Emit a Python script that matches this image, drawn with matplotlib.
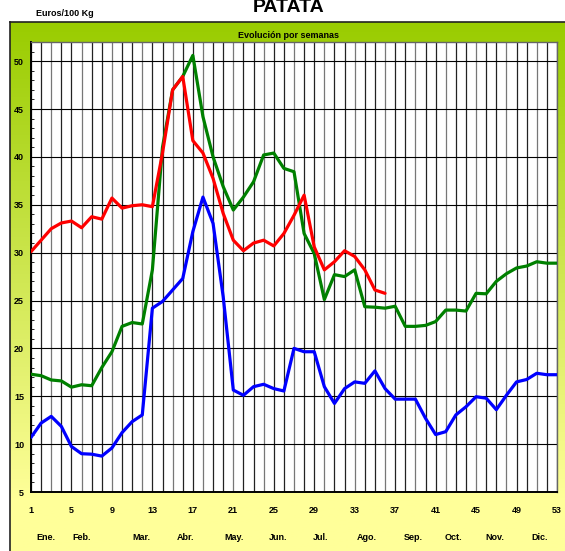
import matplotlib
matplotlib.use("Agg")
import matplotlib.pyplot as plt
import numpy as np
from matplotlib.colors import LinearSegmentedColormap

plt.rcParams["font.family"] = ["Liberation Sans", "DejaVu Sans"]

weeks = list(range(1, 54))

# precio rojo (semanas 1-36)
red_vals = [30.1, 31.3, 32.5, 33.1, 33.3, 32.6, 33.75, 33.5, 35.7, 34.65,
            34.9, 35.0, 34.8, 40.4, 47.0, 48.4, 41.7, 40.4, 37.75, 34.1,
            31.3, 30.2, 31.0, 31.3, 30.7, 32.0, 33.9, 36.0, 30.6, 28.2,
            29.05, 30.2, 29.6, 28.2, 26.1, 25.75]

green_vals = [17.3, 17.15, 16.7, 16.6, 15.95, 16.2, 16.1, 18.0, 19.65, 22.3,
              22.7, 22.55, 28.2, 41.0, 47.0, 48.4, 50.6, 44.2, 40.0, 36.9,
              34.45, 35.8, 37.4, 40.2, 40.4, 38.8, 38.45, 32.0, 29.9, 25.1,
              27.7, 27.5, 28.2, 24.35, 24.3, 24.2, 24.4, 22.3, 22.3, 22.4,
              22.8, 24.0, 24.0, 23.9, 25.75, 25.7, 27.0, 27.8, 28.4, 28.6,
              29.05, 28.9, 28.9]

blue_vals = [10.7, 12.2, 12.9, 11.85, 9.75, 9.0, 8.95, 8.75, 9.6, 11.2,
             12.35, 13.05, 24.2, 24.9, 26.1, 27.3, 32.2, 35.8, 33.05, 25.4,
             15.65, 15.1, 16.0, 16.25, 15.8, 15.55, 20.0, 19.65, 19.65, 16.0,
             14.25, 15.8, 16.5, 16.35, 17.65, 15.8, 14.7, 14.7, 14.7, 12.7,
             11.0, 11.3, 13.05, 13.9, 14.95, 14.8, 13.6, 15.1, 16.5, 16.75,
             17.4, 17.25, 17.25]

x_ticks = list(range(1, 54, 4))
y_ticks = [5, 10, 15, 20, 25, 30, 35, 40, 45, 50]
months = ["Ene.", "Feb.", "Mar.", "Abr.", "May.", "Jun.", "Jul.", "Ago.",
          "Sep.", "Oct.", "Nov.", "Dic."]
month_pos = [2.5, 6.0, 11.9, 16.3, 21.1, 25.4, 29.6, 34.2, 38.8, 42.8, 46.9, 51.3]

W, H = 565, 551
fig = plt.figure(figsize=(W / 100, H / 100), dpi=100)
fig.patch.set_facecolor("white")

# outer gradient panel
bg = fig.add_axes([10 / W, 0, 1 - 10 / W, 1 - 22 / H])
cmap = LinearSegmentedColormap.from_list("g", [(0, "#ffff99"), (0.1, "#ffff99"), (1, "#99cc00")])
grad = np.linspace(0, 1, 256).reshape(-1, 1)
bg.imshow(grad, aspect="auto", cmap=cmap, origin="lower", extent=[0, 1, 0, 1])
bg.set_xticks([])
bg.set_yticks([])
for s in ("right", "bottom"):
    bg.spines[s].set_visible(False)
for s in ("left", "top"):
    bg.spines[s].set_linewidth(1.2)
    bg.spines[s].set_color("#222222")

# white plot area
ax = fig.add_axes([31 / W, 1 - 492 / H, (557 - 31) / W, (492 - 42) / H])
ax.set_facecolor("white")
ax.set_xlim(1, 53)
ax.set_ylim(5, 52)

for w in weeks:
    ax.axvline(w, color="#222222" if w % 3 else "#777777", lw=0.9, zorder=1)
for v in y_ticks:
    ax.axhline(v, color="black", lw=0.8, zorder=1)

ax.plot(weeks[:len(red_vals)], red_vals, color="#ff0000", lw=2.3, zorder=4,
        solid_joinstyle="round", solid_capstyle="round")
ax.plot(weeks, green_vals, color="#008000", lw=2.3, zorder=3,
        solid_joinstyle="round", solid_capstyle="round")
ax.plot(weeks, blue_vals, color="#0000ff", lw=2.3, zorder=3,
        solid_joinstyle="round", solid_capstyle="round")

ax.set_xticks(x_ticks)
ax.set_yticks(y_ticks)
ax.set_yticks(range(5, 53), minor=True)
ax.tick_params(axis="x", length=0, pad=10, labelsize=6.5)
ax.tick_params(axis="y", which="major", length=0, pad=5, labelsize=6.5)
ax.tick_params(axis="y", which="minor", direction="in", length=2.5, width=0.6)
for lab in ax.get_xticklabels() + ax.get_yticklabels():
    lab.set_fontweight("bold")

for s in ("left", "bottom"):
    ax.spines[s].set_color("black")
    ax.spines[s].set_linewidth(1.4)
for s in ("top", "right"):
    ax.spines[s].set_color("#666666")
    ax.spines[s].set_linewidth(1.0)

for m, p in zip(months, month_pos):
    ax.text(p, -0.1, m, transform=ax.get_xaxis_transform(), ha="center", va="center",
            fontsize=6.5, fontweight="bold")

fig.text(289 / W, 1 - 11.5 / H, "PATATA", ha="center", va="baseline",
         fontsize=14, fontweight="bold")
fig.text(65 / W, 1 - 13 / H, "Euros/100 Kg", ha="center", va="center",
         fontsize=6.5, fontweight="bold")
fig.text(288 / W, 1 - 35 / H, "Evolución por semanas", ha="center", va="center",
         fontsize=6.5, fontweight="bold")

fig.savefig("out.png", dpi=100)
